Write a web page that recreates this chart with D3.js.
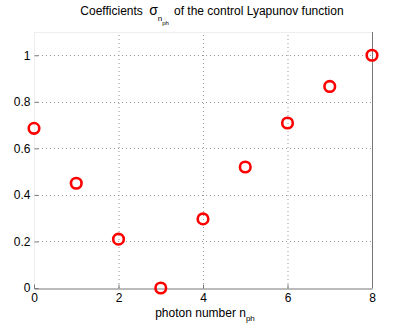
<!DOCTYPE html>
<html>
<head>
<meta charset="utf-8">
<script src="https://cdn.jsdelivr.net/npm/d3@7"></script>
<style>
body { margin: 0; background: #fff; }
text { font-family: "Liberation Sans", Arial, sans-serif; fill: #000; }
</style>
</head>
<body>
<div id="container"></div>
<script>
const photonNumbers = [0, 1, 2, 3, 4, 5, 6, 7, 8];
const sigmaValues = [0.686, 0.45, 0.21, 0.0, 0.297, 0.52, 0.709, 0.866, 1.0];
const xTicks = [0, 2, 4, 6, 8];
const yTicks = [0, 0.2, 0.4, 0.6, 0.8, 1];

function drawChart() {
	const width = 399;
	const height = 327;
	const margin = { top: 32, right: 27, bottom: 39, left: 34 };

	const svg = d3
		.select("#container")
		.append("svg")
		.attr("width", width)
		.attr("height", height);

	const x = d3
		.scaleLinear()
		.domain([0, 8])
		.range([margin.left, width - margin.right]);

	const y = d3
		.scaleLinear()
		.domain([0, 1.1])
		.range([height - margin.bottom, margin.top]);

	// grid
	const grid = svg.append("g").attr("class", "grid");
	grid.selectAll(".gx")
		.data(xTicks.slice(1, -1))
		.enter()
		.append("line")
		.attr("x1", (d) => x(d) + 0.5)
		.attr("x2", (d) => x(d) + 0.5)
		.attr("y1", y(0))
		.attr("y2", y(1.1))
		.attr("stroke", "#999")
		.attr("stroke-dasharray", "1,3");
	grid.selectAll(".gy")
		.data(yTicks.slice(1))
		.enter()
		.append("line")
		.attr("x1", x(0))
		.attr("x2", x(8))
		.attr("y1", (d) => Math.round(y(d)) + 0.5)
		.attr("y2", (d) => Math.round(y(d)) + 0.5)
		.attr("stroke", "#999")
		.attr("stroke-dasharray", "1,3");

	// box
	svg.append("line")
		.attr("x1", x(0)).attr("x2", x(8))
		.attr("y1", y(1.1) + 0.5).attr("y2", y(1.1) + 0.5)
		.attr("stroke", "#eee");
	svg.append("line")
		.attr("x1", x(0) + 0.5).attr("x2", x(0) + 0.5)
		.attr("y1", y(0)).attr("y2", y(1.1))
		.attr("stroke", "#eee");

	const xAxis = d3.axisBottom(x).tickValues(xTicks).tickSizeInner(-4).tickSizeOuter(0).tickPadding(7).tickFormat(d3.format("d"));
	const gx = svg.append("g")
		.attr("transform", `translate(0, ${Math.round(y(0)) + 0.5})`)
		.call(xAxis);
	gx.select(".domain").attr("stroke", "#777");
	gx.selectAll(".tick line").attr("stroke", "#777");
	gx.selectAll(".tick text").attr("font-size", 12).attr("dy", "0.5em");

	const yAxis = d3.axisLeft(y).tickValues(yTicks).tickSizeInner(-4).tickSizeOuter(0).tickPadding(4).tickFormat((d) => String(d));
	const gy = svg.append("g")
		.attr("transform", `translate(${x(0) + 0.5}, 0)`)
		.call(yAxis);
	gy.select(".domain").attr("stroke", "none");
	gy.selectAll(".tick line").attr("stroke", "#777");
	gy.selectAll(".tick text").attr("font-size", 12);

	// right axis
	svg.append("line")
		.attr("x1", x(8) + 0.5).attr("x2", x(8) + 0.5)
		.attr("y1", y(0)).attr("y2", y(1.1))
		.attr("stroke", "#777");

	// points
	svg.append("g")
		.selectAll("circle")
		.data(photonNumbers)
		.enter()
		.append("circle")
		.attr("cx", (d) => x(d))
		.attr("cy", (d, i) => y(sigmaValues[i]))
		.attr("r", 5.3)
		.attr("fill", "none")
		.attr("stroke", "#f00")
		.attr("stroke-width", 2.6);

	// title
	const title = svg.append("text")
		.attr("x", 212)
		.attr("y", 15)
		.attr("text-anchor", "middle")
		.attr("font-size", 12);
	title.append("tspan").text("Coefficients ");
	title.append("tspan").attr("font-size", 14).attr("dx", 3).text("σ");
	title.append("tspan").attr("font-size", 8).attr("dy", 6).text("n");
	title.append("tspan").attr("font-size", 6).attr("dy", 4).text("ph");
	title.append("tspan").attr("dy", -10).attr("dx", 5).text("of the control Lyapunov function");

	const xl = svg.append("text")
		.attr("x", 205)
		.attr("y", 317)
		.attr("text-anchor", "middle")
		.attr("font-size", 12);
	xl.append("tspan").text("photon number n");
	xl.append("tspan").attr("font-size", 8).attr("dy", 4).text("ph");
}

drawChart();
</script>
</body>
</html>
